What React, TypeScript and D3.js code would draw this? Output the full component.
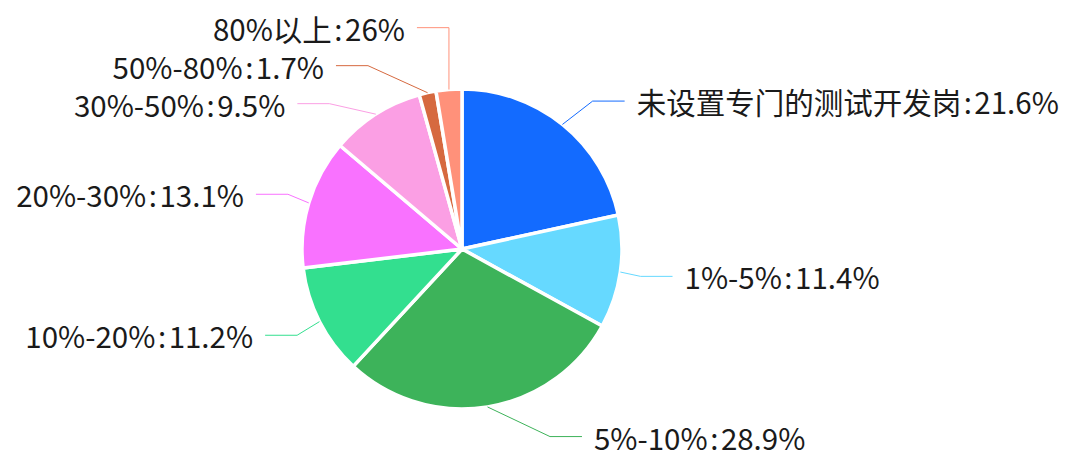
import React, { useEffect, useRef } from 'react';
import * as d3 from 'd3';

// Data (clockwise from 12 o'clock)
const categories = ['未设置专门的测试开发岗', '1%-5%', '5%-10%', '10%-20%', '20%-30%', '30%-50%', '50%-80%', '80%以上'];
const values = [21.6, 11.4, 28.9, 11.2, 13.1, 9.5, 1.7, 2.6];
// the last label is printed as "26%" in the original
const valueLabels = ['21.6%', '11.4%', '28.9%', '11.2%', '13.1%', '9.5%', '1.7%', '26%'];
const colors = ['#136bff', '#66d9ff', '#3db35a', '#33df8f', '#f972ff', '#fb9fe4', '#d6693f', '#ff917a'];

const PieChart = () => {
    const svgRef = useRef(null);

    useEffect(() => {
        if (!svgRef.current) return;

        const width = 1080;
        const height = 463;
        const cx = 462;
        const cy = 249;
        const radius = 160;
        const len1 = 30;   // first label line segment
        const len2 = 32;   // horizontal segment
        const gap = 12;    // line end -> text
        const lineH = 38;  // min vertical spacing between labels
        const rA = 180;    // label ellipse, horizontal
        const rB = 215;    // label ellipse, vertical

        const svg = d3.select(svgRef.current);
        svg.selectAll('*').remove();
        svg.attr('viewBox', `0 0 ${width} ${height}`);

        const g = svg.append('g').attr('transform', `translate(${cx},${cy})`);

        const arcs = d3.pie<number>().sort(null).value(d => d)(values);
        const arc = d3.arc<d3.PieArcDatum<number>>().innerRadius(0).outerRadius(radius);

        g.selectAll('path.slice')
            .data(arcs)
            .join('path')
            .attr('class', 'slice')
            .attr('d', arc)
            .attr('fill', (d, i) => colors[i])
            .attr('stroke', '#fff')
            .attr('stroke-width', 3.5)
            .attr('stroke-linejoin', 'round');

        // Label layout (relative to center)
        const R = radius + len1;
        const items = arcs.map((d, i) => {
            const a = (d.startAngle + d.endAngle) / 2;
            const s = Math.sin(a);
            const c = Math.cos(a);
            return {
                i,
                side: s >= 0 ? 1 : -1,
                ex: radius * s,
                ey: -radius * c,
                y0: -R * c,
                y: -R * c,
            };
        });

        // spread overlapping labels on each side; a cluster sits a little above its mean
        [1, -1].forEach(side => {
            const list = items.filter(d => d.side === side).sort((a, b) => a.y0 - b.y0);
            const clusters = list.map(d => ({ members: [d], mean: d.y0 }));
            let merged = true;
            while (merged) {
                merged = false;
                for (let k = 0; k < clusters.length - 1; k++) {
                    const A = clusters[k];
                    const B = clusters[k + 1];
                    const aBottom = A.mean + (A.members.length - 1) * lineH / 2;
                    const bTop = B.mean - (B.members.length - 1) * lineH / 2;
                    if (bTop - aBottom < lineH) {
                        const members = A.members.concat(B.members);
                        const mean = d3.mean(members, m => m.y0) as number;
                        clusters.splice(k, 2, { members, mean });
                        merged = true;
                        break;
                    }
                }
            }
            clusters.forEach(cl => {
                const n = cl.members.length;
                const shift = n > 1 ? -5 : 0;
                cl.members.forEach((m, k) => {
                    m.y = cl.mean + shift + (k - (n - 1) / 2) * lineH;
                });
            });
        });

        const labels = g.append('g');
        items.forEach(d => {
            const dy = d.y;
            // bend point on an ellipse around the pie
            let bx = d.side * rA * Math.sqrt(Math.max(0, 1 - (dy * dy) / (rB * rB)));
            // keep a turn angle of at least 90 degrees
            bx = d.side > 0 ? Math.max(bx, d.ex) : Math.min(bx, d.ex);
            const endX = bx + d.side * len2;

            labels.append('polyline')
                .attr('points', [[d.ex, d.ey], [bx, d.y], [endX, d.y]].map(p => p.join(',')).join(' '))
                .attr('fill', 'none')
                .attr('stroke', colors[d.i])
                .attr('stroke-width', 1);

            const text = labels.append('text')
                .attr('x', endX + d.side * gap)
                .attr('y', d.y)
                .attr('text-anchor', d.side > 0 ? 'start' : 'end')
                .attr('dominant-baseline', 'central')
                .attr('font-family', '"Noto Sans CJK SC", "Noto Sans", sans-serif')
                .attr('font-size', 29.5)
                .attr('fill', '#1a1a1a');
            text.append('tspan').text(categories[d.i]);
            text.append('tspan').attr('dx', 2.5).text(':');
            text.append('tspan').attr('dx', 2.5).text(valueLabels[d.i]);
        });
    }, []);

    return (
        <div style={{ position: 'absolute', left: 0, top: 0, width: 1080, height: 463, background: '#fff' }}>
            <svg ref={svgRef} width={1080} height={463} style={{ display: 'block' }} aria-label="pie chart"></svg>
        </div>
    );
};

export default function App() {
    return <PieChart />;
}
